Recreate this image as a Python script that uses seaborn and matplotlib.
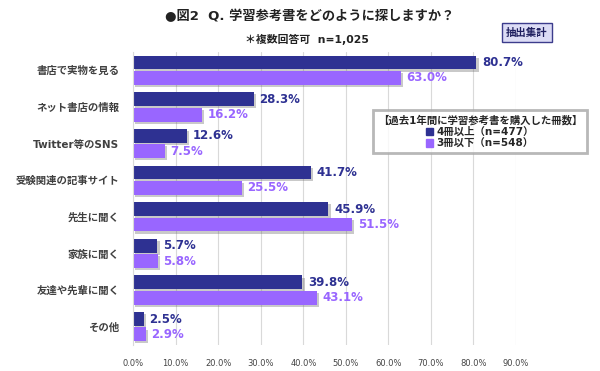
import pandas as pd
import seaborn as sns
import matplotlib.pyplot as plt
import matplotlib.patheffects as pe
from matplotlib.patches import Patch

# Data
categories = ['書店で実物を見る', 'ネット書店の情報', 'Twitter等のSNS', '受験関連の記事サイト',
              '先生に聞く', '家族に聞く', '友達や先輩に聞く', 'その他']
series = ['4冊以上（n=477）', '3冊以下（n=548）']
more4 = [80.7, 28.3, 12.6, 41.7, 45.9, 5.7, 39.8, 2.5]
less3 = [63.0, 16.2, 7.5, 25.5, 51.5, 5.8, 43.1, 2.9]
ticks = [0, 10, 20, 30, 40, 50, 60, 70, 80, 90]

colors = ['#2E3192', '#9966FF']

df = pd.DataFrame({
    'category': categories * 2,
    'group': [series[0]] * len(categories) + [series[1]] * len(categories),
    'value': more4 + less3,
})

sns.set_style('white')
# Latin glyphs in DejaVu (Verdana-like), Japanese falls back to Noto CJK
plt.rcParams['font.family'] = ['DejaVu Sans', 'Noto Sans CJK JP']

fig = plt.figure(figsize=(6, 3.71), dpi=100)
ax = fig.add_axes([0.222, 0.07, 0.638, 0.79])

sns.barplot(data=df, y='category', x='value', hue='group', order=categories,
            hue_order=series, palette=colors, orient='h', width=0.84,
            gap=0.1, legend=False, ax=ax, saturation=1, linewidth=0)

for cont, col in zip(ax.containers, colors):
    for bar in cont:
        bar.set_edgecolor('none')
        bar.set_path_effects([pe.SimplePatchShadow(offset=(1.5, -1.5), shadow_rgbFace='#666666',
                                                   alpha=0.35), pe.Normal()])
    labels = [f'{v:.1f}%' for v in cont.datavalues]
    ax.bar_label(cont, labels=labels, padding=4, color=col,
                 fontsize=8.5, fontweight='bold')

ax.set_xlim(0, 90)
ax.set_xticks(ticks)
ax.set_xticklabels([f'{t:.1f}%' for t in ticks], fontsize=6, color='#444444')
ax.tick_params(axis='x', length=0, pad=10)
ax.tick_params(axis='y', length=0, pad=10)
ax.set_yticks(range(len(categories)))
ax.set_yticklabels(categories, fontsize=7.5, fontweight='bold', color='#404040')
ax.set_xlabel('')
ax.set_ylabel('')
ax.xaxis.grid(True, color='#D9D9D9', linewidth=0.8)
ax.set_axisbelow(True)
for s in ['top', 'right', 'bottom']:
    ax.spines[s].set_visible(False)
ax.spines['left'].set_color('#D9D9D9')

fig.text(0.275, 0.955, '●図2  Q. 学習参考書をどのように探しますか？', fontsize=9.5,
         fontweight='bold', color='#222222', va='center', ha='left')
fig.text(0.408, 0.893, '＊複数回答可  n=1,025', fontsize=7.8, fontweight='bold',
         color='#222222', va='center', ha='left')
fig.text(0.878, 0.912, '抽出集計', fontsize=7.5, fontweight='bold', color='#1F1F5F',
         va='center', ha='center',
         bbox=dict(boxstyle='square,pad=0.4', fc='#DCDCF5', ec='#3C3C8C', lw=1))

handles = [Patch(color=c, label=s) for c, s in zip(colors, series)]
leg = fig.legend(handles=handles, title='【過去1年間に学習参考書を購入した冊数】',
                 loc='center', bbox_to_anchor=(0.8, 0.645), frameon=True,
                 fontsize=7.5, title_fontsize=7.5, handlelength=0.7, handleheight=0.7,
                 handletextpad=0.3, labelspacing=0.15, borderpad=0.45, fancybox=False)
leg.get_title().set_fontweight('bold')
for t in leg.get_texts():
    t.set_fontweight('bold')
leg.get_frame().set_edgecolor('#A6A6A6')
leg.get_frame().set_linewidth(2)
leg._legend_box.align = 'center'

fig.savefig('out.png', dpi=100)
